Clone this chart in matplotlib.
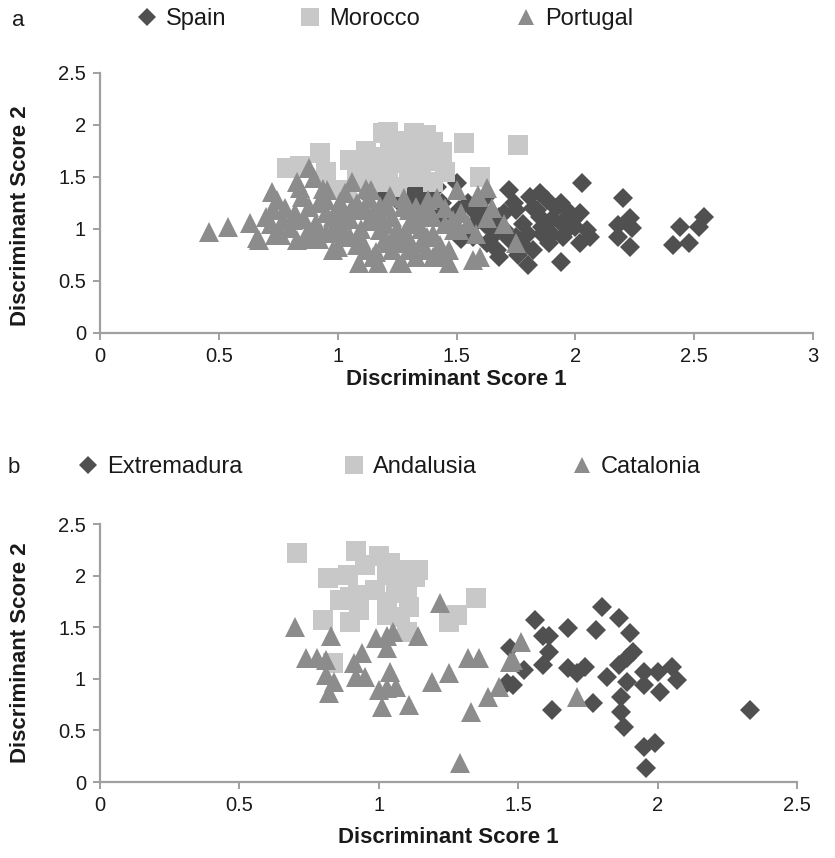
import matplotlib
matplotlib.use("Agg")
import matplotlib.pyplot as plt
from matplotlib.lines import Line2D

plt.rcParams['font.family'] = ['Liberation Sans', 'DejaVu Sans']

# ---------------- Panel a data ----------------
spain_x = [2.03, 2.20, 2.23, 2.18, 2.24, 2.18, 2.23, 2.44, 2.54, 2.52, 2.48, 2.41, 1.94, 1.80,
           1.72, 1.81, 1.88, 1.94, 1.965, 1.84, 1.75, 1.68, 2.05, 2.06, 2.02, 1.89, 1.82, 1.75,
           1.67, 1.63, 1.57, 1.59, 1.51, 1.42, 1.50, 1.68, 1.86, 1.94, 1.99, 1.20, 1.30, 1.35,
           1.25, 1.40, 1.45, 1.55, 1.60, 1.70, 1.78, 1.85, 1.90, 1.95, 1.80, 1.72, 1.65, 1.55, 2.00,
           1.48, 1.52, 1.58, 1.62, 1.66, 1.70, 1.74, 1.78, 1.82, 1.86, 1.90, 1.92, 1.97, 2.02,
           1.76, 1.62, 1.85, 1.44, 1.38, 1.33]
spain_y = [1.44, 1.30, 1.11, 1.04, 1.01, 0.92, 0.83, 1.02, 1.115, 1.02, 0.87, 0.85, 0.68, 0.65,
           1.375, 1.31, 1.28, 1.25, 1.18, 1.18, 1.18, 1.115, 0.99, 0.92, 0.87, 0.87, 0.80, 0.92,
           0.80, 0.87, 0.92, 1.09, 1.18, 1.40, 1.44, 0.73, 1.02, 1.06, 1.09, 1.33, 1.30, 1.25,
           1.28, 1.20, 1.10, 1.00, 1.20, 1.00, 1.05, 1.12, 0.95, 0.92, 0.95, 0.90, 1.00, 1.25, 1.02,
           1.05, 0.90, 1.15, 1.05, 0.95, 1.15, 1.25, 0.85, 1.20, 0.95, 1.10, 1.20, 1.00, 1.15,
           0.75, 1.30, 1.35, 1.25, 1.35, 1.38]

morocco_x = [0.787, 0.80, 0.925, 1.05, 1.08, 1.18, 1.21, 1.32, 1.40, 1.43, 1.26, 1.29, 1.21,
             1.15, 1.32, 1.40, 1.53, 1.60, 1.25, 1.04, 1.00, 1.19, 1.15, 1.02, 1.44, 1.76, 1.35,
             0.84, 1.10, 1.30, 1.35, 1.25, 1.20, 1.35, 1.28, 1.37, 1.12, 1.22, 1.30, 1.40, 1.18,
             1.08, 0.95, 1.45]
morocco_y = [1.59, 1.59, 1.73, 1.66, 1.57, 1.66, 1.93, 1.92, 1.84, 1.73, 1.79, 1.63, 1.54,
             1.50, 1.50, 1.45, 1.83, 1.50, 1.40, 1.375, 1.375, 1.92, 1.69, 1.375, 1.74, 1.81, 1.60,
             1.61, 1.60, 1.70, 1.75, 1.65, 1.45, 1.55, 1.85, 1.90, 1.75, 1.80, 1.55, 1.65, 1.55,
             1.45, 1.55, 1.55]

portugal_x = [0.459, 0.538, 0.631, 0.66, 0.724, 0.728, 0.70, 0.736, 0.80, 0.81, 0.83, 0.88, 0.90,
              0.85, 0.88, 0.94, 0.95, 0.95, 1.00, 1.06, 1.06, 1.12, 1.12, 1.12, 1.17, 1.21, 1.27,
              1.25, 1.30, 1.18, 1.02, 0.87, 0.83, 1.50, 1.59, 1.63, 1.63, 1.75, 1.60, 1.47, 1.49,
              1.33, 1.35, 1.43, 0.745, 0.82, 0.84, 0.955, 1.01, 1.14, 1.07, 1.21, 1.275, 1.33,
              1.375, 1.40, 1.485, 1.51, 1.59, 0.98, 1.09, 1.15, 1.26, 1.33, 1.40, 1.47, 1.57,
              1.25, 1.375, 1.18, 1.05, 0.91, 0.77, 0.76, 0.67, 1.00, 1.05, 1.10, 1.15, 1.20, 1.25,
              1.30, 1.35, 1.40, 1.10, 1.20, 1.30, 0.95, 1.00, 1.28, 1.22, 1.38, 0.90, 1.45, 1.55,
              0.72, 0.78, 0.86, 0.92, 0.98, 1.03, 1.08, 1.13, 1.18, 1.23, 1.28, 1.33, 1.38, 1.43,
              1.45, 1.08, 1.16, 1.23, 1.30, 1.37, 0.97, 0.88, 1.52, 1.58, 1.65, 1.70, 1.13, 1.03,
              0.92, 1.42]
portugal_y = [0.97, 1.02, 1.06, 0.91, 1.36, 1.18, 1.12, 0.94, 1.01, 1.09, 1.45, 1.59, 1.49,
              1.31, 1.21, 1.38, 1.28, 0.96, 0.83, 1.45, 1.21, 1.38, 1.18, 0.80, 0.67, 0.87, 0.67,
              0.92, 1.18, 1.09, 1.09, 0.96, 0.89, 1.375, 1.33, 1.39, 1.11, 0.87, 0.73, 0.80, 0.99,
              1.18, 0.87, 0.73, 1.28, 1.15, 1.39, 1.375, 1.26, 1.375, 1.18, 1.21, 1.21, 1.21,
              1.18, 1.115, 1.09, 0.99, 1.31, 0.80, 0.67, 0.73, 0.67, 0.73, 0.73, 0.67, 0.70,
              0.87, 0.92, 0.99, 0.92, 1.06, 1.09, 0.94, 0.89, 1.00, 1.10, 1.00, 1.15, 1.05, 1.00,
              1.05, 1.00, 0.95, 0.90, 0.90, 0.90, 1.15, 1.20, 1.30, 1.32, 1.28, 1.00, 1.05, 1.05,
              1.05, 1.20, 1.10, 0.90, 1.12, 0.95, 1.25, 1.08, 1.22, 1.12, 0.95, 1.10, 1.12, 0.85,
              1.20, 0.85, 0.78, 0.80, 0.80, 0.80, 0.97, 0.90, 1.15, 0.95, 1.20, 1.05, 1.30, 1.35,
              1.25, 1.30]

# ---------------- Panel b data ----------------
extremadura_x = [1.56, 1.59, 1.61, 1.61, 1.59, 1.52, 1.47, 1.48, 1.62, 1.68, 1.68, 1.71, 1.74,
                 1.77, 1.78, 1.80, 1.86, 1.90, 1.91, 1.89, 1.86, 1.82, 1.89, 1.95, 1.95, 2.00,
                 2.01, 2.05, 2.07, 1.87, 1.87, 1.88, 1.95, 1.99, 1.96, 2.33, 1.46]
extremadura_y = [1.57, 1.41, 1.41, 1.26, 1.13, 1.09, 1.30, 0.94, 0.70, 1.49, 1.10, 1.06, 1.11,
                 0.77, 1.47, 1.70, 1.59, 1.44, 1.26, 1.20, 1.13, 1.02, 0.97, 1.07, 0.94, 1.07,
                 0.87, 1.11, 0.99, 0.82, 0.68, 0.53, 0.34, 0.38, 0.14, 0.70, 0.96]

andalusia_x = [0.706, 0.92, 1.00, 1.04, 1.09, 0.95, 0.817, 0.89, 0.896, 0.925, 0.896, 1.03, 1.03,
               1.075, 1.13, 1.14, 1.10, 1.03, 1.35, 1.25, 1.28, 0.80, 0.835, 1.10, 0.986, 0.93,
               1.06, 1.11, 0.86]
andalusia_y = [2.22, 2.24, 2.19, 2.12, 2.05, 2.10, 1.98, 2.01, 1.79, 1.81, 1.55, 2.01, 1.74,
               1.60, 1.99, 2.05, 1.83, 1.62, 1.78, 1.55, 1.62, 1.57, 1.15, 1.45, 1.86, 1.67,
               1.88, 1.70, 1.76]

catalonia_x = [0.70, 0.83, 0.74, 0.78, 0.81, 0.81, 0.84, 0.82, 0.94, 0.91, 0.92, 0.95, 0.99, 1.03,
               1.05, 1.03, 1.04, 1.00, 1.03, 1.06, 1.01, 1.11, 1.14, 1.22, 1.19, 1.25, 1.32, 1.36,
               1.33, 1.39, 1.43, 1.48, 1.29, 1.51, 1.47, 1.71]
catalonia_y = [1.50, 1.41, 1.20, 1.20, 1.18, 1.04, 0.97, 0.86, 1.25, 1.15, 1.02, 1.02, 1.40, 1.41,
               1.45, 1.30, 1.07, 0.89, 0.91, 0.92, 0.73, 0.75, 1.41, 1.73, 0.97, 1.06, 1.20, 1.20,
               0.68, 0.82, 0.92, 1.18, 0.18, 1.36, 1.16, 0.82]

ticks_a = [0, 0.5, 1, 1.5, 2, 2.5, 3]
ticks_b = [0, 0.5, 1, 1.5, 2, 2.5]
tick_labels_a = ['0', '0.5', '1', '1.5', '2', '2.5', '3']
tick_labels_b = ['0', '0.5', '1', '1.5', '2', '2.5']

C_DARK = '#505050'
C_LIGHT = '#c8c8c8'
C_MID = '#8c8c8c'
AX_COL = '#a0a0a0'
TXT = '#1a1a1a'

W, H = 835, 858
fig = plt.figure(figsize=(W / 100, H / 100), dpi=100)

def fx(px):
    return px / W

def fy(py):
    return 1 - py / H

ax_a = fig.add_axes([fx(100), fy(333), fx(813) - fx(100), fy(73) - fy(333)])
ax_b = fig.add_axes([fx(100), fy(782), fx(797) - fx(100), fy(524) - fy(782)])

DS, SS, TS = 10.5, 14.5, 14.5  # marker sizes (points)
LABEL_FS = 16


def style(ax, xt, xtl, xlab_top_px, ylab_y):
    ax.set_ylim(0, 2.5)
    ax.set_xlim(xt[0], xt[-1])
    ax.set_xticks(xt)
    ax.set_xticklabels(xtl)
    ax.set_yticks(ticks_b)
    ax.set_yticklabels(tick_labels_b)
    for s in ['top', 'right']:
        ax.spines[s].set_visible(False)
    for s in ['left', 'bottom']:
        ax.spines[s].set_color(AX_COL)
        ax.spines[s].set_linewidth(1.6)
    ax.tick_params(axis='both', colors=AX_COL, length=5, width=1.4, labelsize=14.5,
                   labelcolor=TXT, pad=5)
    ax.set_xlabel('Discriminant Score 1', fontsize=LABEL_FS, fontweight='bold', color=TXT)
    ax.set_ylabel('Discriminant Score 2', fontsize=LABEL_FS, fontweight='bold', color=TXT)
    bb = ax.get_position()
    ax.xaxis.set_label_coords(0.5, (fy(xlab_top_px) - bb.y0) / bb.height)
    ax.yaxis.set_label_coords((fx(31) - bb.x0) / bb.width, ylab_y)
    ax.patch.set_alpha(0)


def plot_panel(ax, xs1, ys1, xs2, ys2, xs3, ys3):
    ax.plot(xs1, ys1, linestyle='none', marker='D', markersize=DS, color=C_DARK, markeredgewidth=0, clip_on=False)
    ax.plot(xs2, ys2, linestyle='none', marker='s', markersize=SS, color=C_LIGHT, markeredgewidth=0, clip_on=False)
    ax.plot(xs3, ys3, linestyle='none', marker='^', markersize=TS, color=C_MID, markeredgewidth=0, clip_on=False)


plot_panel(ax_a, spain_x, spain_y, morocco_x, morocco_y, portugal_x, portugal_y)
plot_panel(ax_b, extremadura_x, extremadura_y, andalusia_x, andalusia_y, catalonia_x, catalonia_y)
style(ax_a, ticks_a, tick_labels_a, 369, 0.45)
style(ax_b, ticks_b, tick_labels_b, 827, 0.5)


def legend_entry(px, py, marker, ms, color, label):
    h = Line2D([], [], linestyle='none', marker=marker, markersize=ms, color=color, markeredgewidth=0)
    lg = fig.legend([h], [label], loc='center left', bbox_to_anchor=(fx(px), fy(py)),
                    frameon=False, fontsize=17, handlelength=0.7, handletextpad=0.45,
                    borderpad=0, borderaxespad=0)
    for t in lg.get_texts():
        t.set_color(TXT)


legend_ms = {'D': 9.5, 's': 12.5, '^': 12.0}
fig.text(fx(12), fy(20), 'a', fontsize=16, color=TXT, va='center', ha='left')
legend_entry(139, 19, 'D', legend_ms['D'], C_DARK, 'Spain')
legend_entry(302, 19, 's', legend_ms['s'], C_LIGHT, 'Morocco')
legend_entry(518, 19, '^', legend_ms['^'], C_MID, 'Portugal')

fig.text(fx(8), fy(468), 'b', fontsize=16, color=TXT, va='center', ha='left')
legend_entry(80, 467, 'D', legend_ms['D'], C_DARK, 'Extremadura')
legend_entry(346, 467, 's', legend_ms['s'], C_LIGHT, 'Andalusia')
legend_entry(574, 467, '^', legend_ms['^'], C_MID, 'Catalonia')

fig.savefig('out.png', dpi=100, facecolor='white')
